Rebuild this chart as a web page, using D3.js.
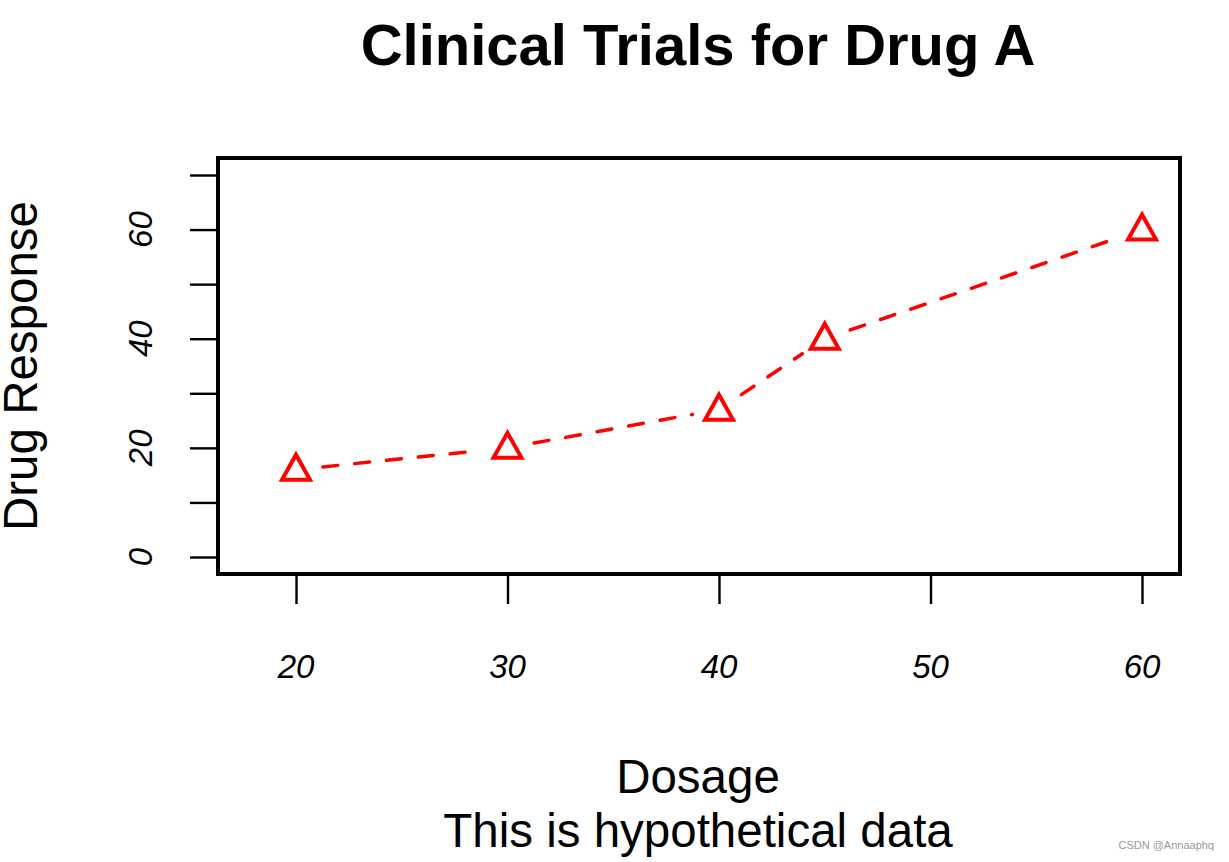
<!DOCTYPE html>
<meta charset="utf-8">
<script src="https://cdn.jsdelivr.net/npm/d3@7"></script>
<style>
body { margin: 0; background: #fff; }
text { font-family: "Liberation Sans", Arial, sans-serif; fill: #000; }
</style>
<body>
<script>

// data (R's classic dose / drugA example)
var dose = [20, 30, 40, 45, 60];
var drugA = [16, 20, 27, 40, 60];
var xTicks = [20, 30, 40, 50, 60];
var yTicks = [0, 10, 20, 30, 40, 50, 60, 70];
var yLabels = [0, 20, 40, 60];

var width = 1229,
    height = 862;

var svg = d3.select("body").append("svg")
    .attr("width", width)
    .attr("height", height);

var x = d3.scaleLinear().domain([20, 60]).range([296, 1142]);
var y = d3.scaleLinear().domain([0, 70]).range([557, 175]);

// plot box
var box = {left: 218, right: 1180, top: 158, bottom: 574};

// y axis ticks
svg.append("g")
    .attr("transform", "translate(" + box.left + ",0)")
    .call(d3.axisLeft(y).tickValues(yTicks).tickSize(28).tickFormat(""))
    .call(function(g) {
      g.select(".domain").remove();
      g.selectAll(".tick line").attr("stroke", "#000").attr("stroke-width", 2.4);
    });

// x axis ticks
svg.append("g")
    .attr("transform", "translate(0," + (box.bottom + 2) + ")")
    .call(d3.axisBottom(x).tickValues(xTicks).tickSize(28).tickFormat(""))
    .call(function(g) {
      g.select(".domain").remove();
      g.selectAll(".tick line").attr("stroke", "#000").attr("stroke-width", 2.4);
    });

// tick labels
svg.append("g").selectAll("text")
    .data(xTicks)
    .enter().append("text")
    .attr("x", function(d) { return x(d); })
    .attr("y", 678)
    .attr("text-anchor", "middle")
    .style("font-size", "33px")
    .style("font-style", "italic")
    .text(function(d) { return d; });

svg.append("g").selectAll("text")
    .data(yLabels)
    .enter().append("text")
    .attr("transform", function(d) { return "translate(152," + y(d) + ") rotate(-90)"; })
    .attr("text-anchor", "middle")
    .style("font-size", "33px")
    .style("font-style", "italic")
    .text(function(d) { return d; });

// box
svg.append("rect")
    .attr("x", box.left)
    .attr("y", box.top)
    .attr("width", box.right - box.left)
    .attr("height", box.bottom - box.top)
    .attr("fill", "none")
    .attr("stroke", "#000")
    .attr("stroke-width", 4);

// line segments with gaps around the points (type = "b")
var pts = dose.map(function(d, i) { return [x(d), y(drugA[i])]; });
var gap = 27;
var segs = [];
for (var i = 0; i < pts.length - 1; i++) {
  var a = pts[i], b = pts[i + 1];
  var dx = b[0] - a[0], dy = b[1] - a[1], len = Math.sqrt(dx * dx + dy * dy);
  if (len <= 2 * gap) continue;
  var ux = dx / len, uy = dy / len;
  segs.push([[a[0] + ux * gap, a[1] + uy * gap], [b[0] - ux * gap, b[1] - uy * gap]]);
}

svg.append("g").selectAll("path")
    .data(segs)
    .enter().append("path")
    .attr("d", function(d) { return d3.line()(d); })
    .attr("fill", "none")
    .attr("stroke", "#ff0000")
    .attr("stroke-width", 3.5)
    .attr("stroke-linecap", "round")
    .attr("stroke-dasharray", "15,17");

// triangle markers
svg.append("g").selectAll("path")
    .data(pts)
    .enter().append("path")
    .attr("transform", function(d) { return "translate(" + d[0] + "," + d[1] + ")"; })
    .attr("d", "M0,-15L14,10L-14,10Z")
    .attr("fill", "none")
    .attr("stroke", "#ff0000")
    .attr("stroke-width", 4)
    .attr("stroke-linejoin", "miter");

// titles
svg.append("text")
    .attr("x", 698)
    .attr("y", 65)
    .attr("text-anchor", "middle")
    .style("font-size", "58px")
    .style("font-weight", "bold")
    .text("Clinical Trials for Drug A");

svg.append("text")
    .attr("x", 698)
    .attr("y", 793)
    .attr("text-anchor", "middle")
    .style("font-size", "47.5px")
    .text("Dosage");

svg.append("text")
    .attr("x", 698)
    .attr("y", 847)
    .attr("text-anchor", "middle")
    .style("font-size", "47.5px")
    .text("This is hypothetical data");

svg.append("text")
    .attr("transform", "translate(37,366) rotate(-90)")
    .attr("text-anchor", "middle")
    .style("font-size", "47.5px")
    .text("Drug Response");

// watermark
svg.append("text")
    .attr("x", 1214)
    .attr("y", 849)
    .attr("text-anchor", "end")
    .style("font-size", "11px")
    .style("fill", "#999")
    .text("CSDN @Annaaphq");

</script>
</body>
</html>
